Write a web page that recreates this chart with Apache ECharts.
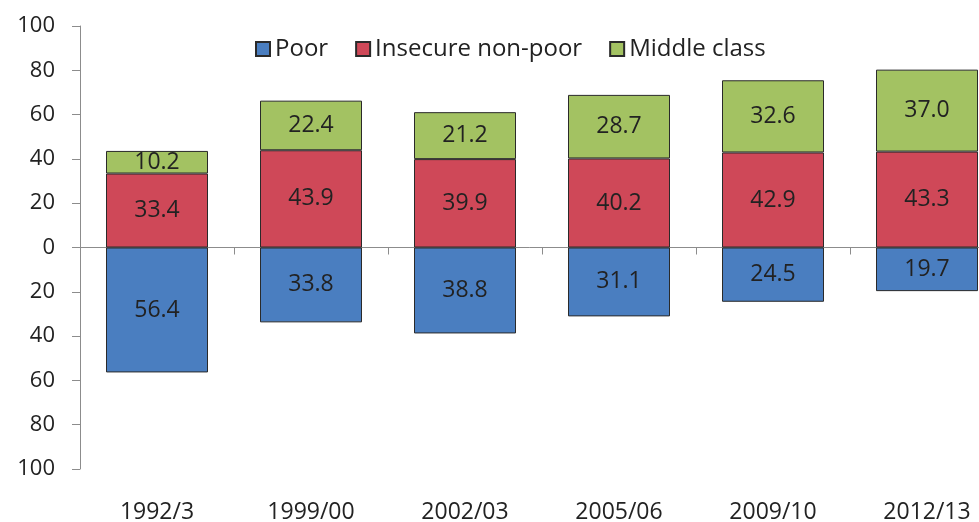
<!DOCTYPE html>
<html>
  <head>
    <meta charset="utf-8" />
    <title>Economic classes</title>
    <script src="https://cdn.jsdelivr.net/npm/echarts@6/dist/echarts.min.js"></script>
    <style>
      html, body { margin: 0; padding: 0; background: #fff; }
    </style>
  </head>
  <body>
    <div id="main" style="width: 979px;height:522px;"></div>

    <script type="text/javascript">
      // data (percent of population)
      var years = ['1992/3', '1999/00', '2002/03', '2005/06', '2009/10', '2012/13'];
      var poor = [56.4, 33.8, 38.8, 31.1, 24.5, 19.7];
      var insecure = [33.4, 43.9, 39.9, 40.2, 42.9, 43.3];
      var middle = [10.2, 22.4, 21.2, 28.7, 32.6, 37.0];

      var font = 'Open Sans';
      var myBar = echarts.init(document.getElementById('main'));

      // poor shown below the zero line
      var poorNeg = poor.map(function (v) { return -v; });

      var labelStyle = {
        show: true,
        position: 'inside',
        color: '#222',
        fontFamily: font,
        fontSize: 23,
        formatter: function (p) { return Math.abs(p.value).toFixed(1); }
      };

      var option = {
        animation: false,
        // title is mostly cut off at the top of the picture
        graphic: [{
          type: 'text',
          left: 6,
          top: -25,
          style: {
            text: 'Figure 4: Composition of the population by class, per cent of population (1992/3 to 2012/13)',
            fill: '#9b1b30',
            font: '24px "Open Sans"'
          }
        }],
        legend: {
          top: 32,
          left: 250,
          itemWidth: 14,
          itemHeight: 14,
          itemGap: 27,
          icon: 'rect',
          textStyle: { fontFamily: font, fontSize: 24, color: '#222' },
          data: ['Poor', 'Insecure non-poor', 'Middle class']
        },
        grid: {
          left: 80,
          top: 26,
          width: 924,
          height: 443,
          outerBoundsMode: 'none'
        },
        xAxis: [
          {
            type: 'category',
            data: years,
            axisLine: { onZero: true, lineStyle: { color: '#8c8c8c', width: 1 } },
            axisTick: { show: true, length: 7, lineStyle: { color: '#8c8c8c' } },
            axisLabel: { show: false },
            splitLine: { show: false }
          },
          {
            type: 'category',
            data: years,
            position: 'bottom',
            axisLine: { show: false, onZero: false },
            axisTick: { show: false },
            axisLabel: { margin: 32, fontFamily: font, fontSize: 23, color: '#222' },
            splitLine: { show: false }
          }
        ],
        yAxis: {
          type: 'value',
          min: -100,
          max: 100,
          interval: 20,
          axisLine: { show: true, lineStyle: { color: '#8c8c8c' } },
          axisTick: { show: true, inside: false, length: 8, lineStyle: { color: '#8c8c8c' } },
          axisLabel: {
            margin: 25,
            fontFamily: font,
            fontSize: 22,
            color: '#222',
            formatter: function (v) { return Math.abs(v); }
          },
          splitLine: { show: false }
        },
        series: [
          {
            name: 'Poor',
            type: 'bar',
            stack: 'all',
            barWidth: 102,
            data: poorNeg,
            itemStyle: { color: '#4a7ec0', borderColor: '#2a2a2a', borderWidth: 1 },
            label: labelStyle
          },
          {
            name: 'Insecure non-poor',
            type: 'bar',
            stack: 'all',
            barWidth: 102,
            data: insecure,
            itemStyle: { color: '#cf4858', borderColor: '#2a2a2a', borderWidth: 1 },
            label: labelStyle
          },
          {
            name: 'Middle class',
            type: 'bar',
            stack: 'all',
            barWidth: 102,
            data: middle,
            itemStyle: { color: '#a3c262', borderColor: '#2a2a2a', borderWidth: 1 },
            label: labelStyle
          }
        ]
      };

      myBar.setOption(option);
    </script>
  </body>
</html>
